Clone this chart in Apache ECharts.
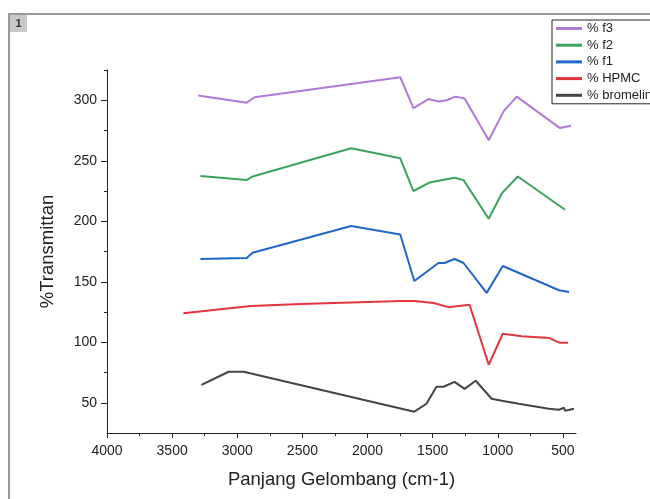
<!DOCTYPE html>
<html>
<head>
<meta charset="utf-8">
<script src="https://cdn.jsdelivr.net/npm/echarts@6/dist/echarts.min.js"></script>
<style>
  html, body { margin: 0; padding: 0; background: #fff; }
  #chart { width: 650px; height: 499px; }
</style>
</head>
<body>
<div id="chart"></div>
<script>
// wavenumbers (cm-1) and %T values
var waveF3 = [3300, 2928, 2867, 1749, 1648, 1533, 1456, 1394, 1325, 1255, 1070, 955, 854, 523, 438];
var transF3 = [304, 298, 302.5, 319, 293.5, 301, 299, 300, 303, 301.5, 267, 291, 303, 277, 279];

var waveF2 = [3283, 2928, 2882, 2126, 1749, 1648, 1525, 1332, 1263, 1070, 970, 847, 484];
var transF2 = [237.3, 234, 237, 260.4, 252, 225, 232, 236, 234, 202, 223, 237, 209.5];

var waveF1 = [3283, 2928, 2882, 2126, 1749, 1641, 1548, 1456, 1409, 1332, 1263, 1086, 962, 530, 453];
var transF1 = [168.8, 169.6, 174, 196, 189, 150.6, 158, 165.5, 165.5, 168.8, 165.5, 140.8, 163, 143, 141.6];

var waveHpmc = [3414, 2897, 2512, 1741, 1641, 1494, 1379, 1301, 1217, 1070, 962, 815, 608, 523, 461];
var transHpmc = [124, 130, 131.7, 134, 134, 132.5, 129, 130, 131, 81.4, 107, 105, 103.6, 99.5, 99.5];

var waveBrom = [3275, 3067, 2951, 1641, 1548, 1471, 1417, 1332, 1255, 1170, 1047, 970, 839, 608, 530, 492, 484, 415];
var transBrom = [64.8, 75.6, 75.6, 42.6, 49.2, 63.2, 63.2, 67.3, 61.5, 68.2, 53.3, 51.7, 49.2, 45, 44.2, 45.9, 43.4, 45];

var xMajor = [4000, 3500, 3000, 2500, 2000, 1500, 1000, 500];
var xMinor = [3750, 3250, 2750, 2250, 1750, 1250, 750];
var yMajor = [50, 100, 150, 200, 250, 300];
var yMinor = [75, 125, 175, 225, 275, 325];

function pairs(xs, ys) {
    return xs.map(function (x, i) { return [x, ys[i]]; });
}

var font = '"Liberation Sans", Arial, sans-serif';
var ink = '#222';

var chart = echarts.init(document.getElementById('chart'));

function line(name, color, xs, ys) {
    return {
        name: name,
        type: 'line',
        data: pairs(xs, ys),
        showSymbol: false,
        symbol: 'none',
        lineStyle: { color: color, width: 2 },
        itemStyle: { color: color }
    };
}

chart.setOption({
    animation: false,
    grid: { left: 107, right: 74, top: 70, bottom: 66 },
    legend: {
        data: ['% f3', '% f2', '% f1', '% HPMC', '% bromelin'],
        orient: 'vertical',
        left: 552,
        top: 20,
        padding: [2, 40, 2, 4],
        itemGap: 3.7,
        itemWidth: 26,
        itemHeight: 3,
        icon: 'rect',
        borderColor: '#222',
        borderWidth: 1,
        textStyle: { fontFamily: font, fontSize: 13, color: ink, lineHeight: 13 }
    },
    xAxis: [{
        type: 'value',
        inverse: true,
        min: 400,
        max: 4000,
        name: 'Panjang Gelombang (cm-1)',
        nameLocation: 'middle',
        nameGap: 37,
        nameTextStyle: { fontFamily: font, fontSize: 18.5, color: ink },
        axisLine: { show: true, lineStyle: { color: ink, width: 1 } },
        axisTick: { show: true, length: 5, customValues: xMajor, lineStyle: { color: ink } },
        axisLabel: {
            customValues: xMajor, fontFamily: font, fontSize: 14, color: ink, margin: 11,
            formatter: function (v) { return String(v); }
        },
        splitLine: { show: false }
    }, {
        type: 'value',
        inverse: true,
        min: 400,
        max: 4000,
        position: 'bottom',
        axisLine: { show: false },
        axisTick: { show: true, length: 3, customValues: xMinor, lineStyle: { color: ink } },
        axisLabel: { show: false },
        splitLine: { show: false }
    }],
    yAxis: [{
        type: 'value',
        min: 25,
        max: 325,
        name: '%Transmittan',
        nameLocation: 'middle',
        nameGap: 50,
        nameTextStyle: { fontFamily: font, fontSize: 18.5, color: ink },
        axisLine: { show: true, lineStyle: { color: ink, width: 1 } },
        axisTick: { show: true, length: 6, customValues: yMajor, lineStyle: { color: ink } },
        axisLabel: { customValues: yMajor, fontFamily: font, fontSize: 14, color: ink, margin: 10 },
        splitLine: { show: false }
    }, {
        type: 'value',
        min: 25,
        max: 325,
        position: 'left',
        axisLine: { show: false },
        axisTick: { show: true, length: 3, customValues: yMinor, lineStyle: { color: ink } },
        axisLabel: { show: false },
        splitLine: { show: false }
    }],
    graphic: [
        { type: 'line', shape: { x1: 8, y1: 14, x2: 650, y2: 14 }, style: { stroke: '#9a9a9a', lineWidth: 2 } },
        { type: 'line', shape: { x1: 9, y1: 14, x2: 9, y2: 499 }, style: { stroke: '#9a9a9a', lineWidth: 2 } },
        { type: 'rect', shape: { x: 10, y: 15, width: 17, height: 17 }, style: { fill: '#c9c9c9' } },
        { type: 'text', x: 18.5, y: 23.5, style: { text: '1', fill: '#333', font: 'bold 11px ' + font, align: 'center', verticalAlign: 'middle' } }
    ],
    series: [
        line('% bromelin', '#444444', waveBrom, transBrom),
        line('% HPMC', '#e2353d', waveHpmc, transHpmc),
        line('% f1', '#2166c9', waveF1, transF1),
        line('% f2', '#3aa35c', waveF2, transF2),
        line('% f3', '#b07ad8', waveF3, transF3)
    ]
});
</script>
</body>
</html>
